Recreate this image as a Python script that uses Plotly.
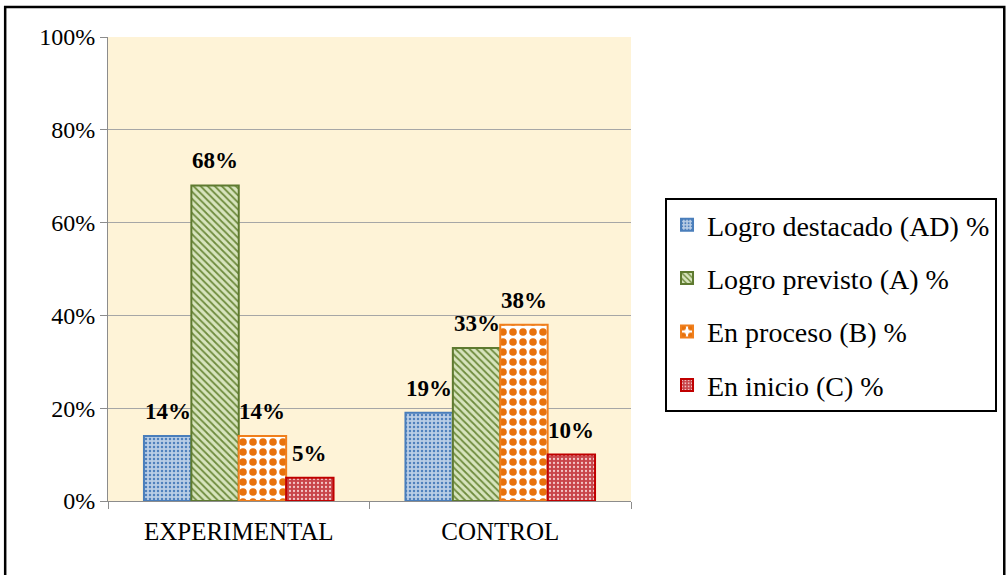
import plotly.graph_objects as go

# Grupos y niveles de logro
grupos = ["EXPERIMENTAL", "CONTROL"]
series = [
    "Logro destacado (AD) %",
    "Logro previsto (A) %",
    "En proceso (B) %",
    "En inicio (C) %",
]
logro_destacado = [0.14, 0.19]
logro_previsto = [0.68, 0.33]
en_proceso = [0.14, 0.38]
en_inicio = [0.05, 0.10]
valores = [logro_destacado, logro_previsto, en_proceso, en_inicio]
ticks_y = [0, 0.2, 0.4, 0.6, 0.8, 1.0]
ticks_y_txt = ["0%", "20%", "40%", "60%", "80%", "100%"]

FONT = "'Times New Roman', 'Liberation Serif', 'DejaVu Serif', serif"
BARGAP = 0.275

estilos = [
    dict(bg="#B9CDE5", fg="#4F81BD", line="#4A7EBB", shape=".", size=4, solidity=0.3),
    dict(bg="#D7E4BD", fg="#6E8B3D", line="#5E7A30", shape="\\", size=5, solidity=0.35),
    dict(bg="#FFFFFF", fg="#E8720C", line="#F07F1C", shape=".", size=10, solidity=0.45),
    dict(bg="#C8454A", fg="#F4C7C8", line="#C00000", shape=".", size=4, solidity=0.25),
]

fig = go.Figure()
for i, (nombre, vals, st) in enumerate(zip(series, valores, estilos)):
    fig.add_trace(go.Bar(
        name=nombre,
        x=grupos,
        y=vals,
        legendgroup=f"g{i}",
        marker=dict(
            color=st["bg"],
            line=dict(color=st["line"], width=2),
            pattern=dict(shape=st["shape"], fgcolor=st["fg"], bgcolor=st["bg"],
                         size=st["size"], solidity=st["solidity"], fillmode="replace"),
        ),
        hoverinfo="skip",
    ))

# Etiquetas de valor sobre cada barra (posición según el ancho de grupo)
n = len(series)
ancho = (1 - BARGAP) / n
anotaciones = []
for j, vals in enumerate(valores):
    desplaz = -(1 - BARGAP) / 2 + ancho * (j + 0.5)
    for g, v in enumerate(vals):
        anotaciones.append(dict(
            x=g + desplaz, y=v, xref="x", yref="y",
            text=f"<b>{round(v * 100)}%</b>",
            showarrow=False, yanchor="bottom", yshift=10,
            font=dict(family=FONT, size=23, color="#000000"),
        ))

fig.update_layout(
    width=1008,
    height=575,
    margin=dict(l=108, r=376, t=37, b=74),
    paper_bgcolor="#FFFFFF",
    plot_bgcolor="#FEF3D7",
    barmode="group",
    bargap=BARGAP,
    bargroupgap=0,
    font=dict(family=FONT, size=22, color="#000000"),
    showlegend=True,
    legend=dict(
        x=1.063, y=0.653, xanchor="left", yanchor="top",
        bgcolor="#FFFFFF",
        bordercolor="#000000",
        borderwidth=2,
        font=dict(family=FONT, size=28, color="#000000"),
        traceorder="grouped",
        tracegroupgap=14,
        itemwidth=30,
    ),
    xaxis=dict(
        showline=True, linecolor="#8C8C8C", linewidth=1,
        ticks="outside", tickson="boundaries", ticklen=7, tickcolor="#8C8C8C",
        tickfont=dict(family=FONT, size=25),
        ticklabelstandoff=8,
        showgrid=False,
    ),
    yaxis=dict(
        range=[0, 1],
        tickvals=ticks_y,
        ticktext=ticks_y_txt,
        showline=True, linecolor="#8C8C8C", linewidth=1,
        ticks="outside", ticklen=7, tickcolor="#8C8C8C",
        showgrid=True, gridcolor="#A6A6A6", gridwidth=1,
        tickfont=dict(family=FONT, size=24),
        zeroline=False,
    ),
    annotations=anotaciones,
    shapes=[
        # marco exterior
        dict(type="rect", xref="paper", yref="paper",
             x0=-0.1966, x1=1.7137, y0=-0.2, y1=1.0647,
             line=dict(color="#000000", width=2.5), fillcolor="rgba(0,0,0,0)"),
    ],
)

fig.write_html("out.html")
